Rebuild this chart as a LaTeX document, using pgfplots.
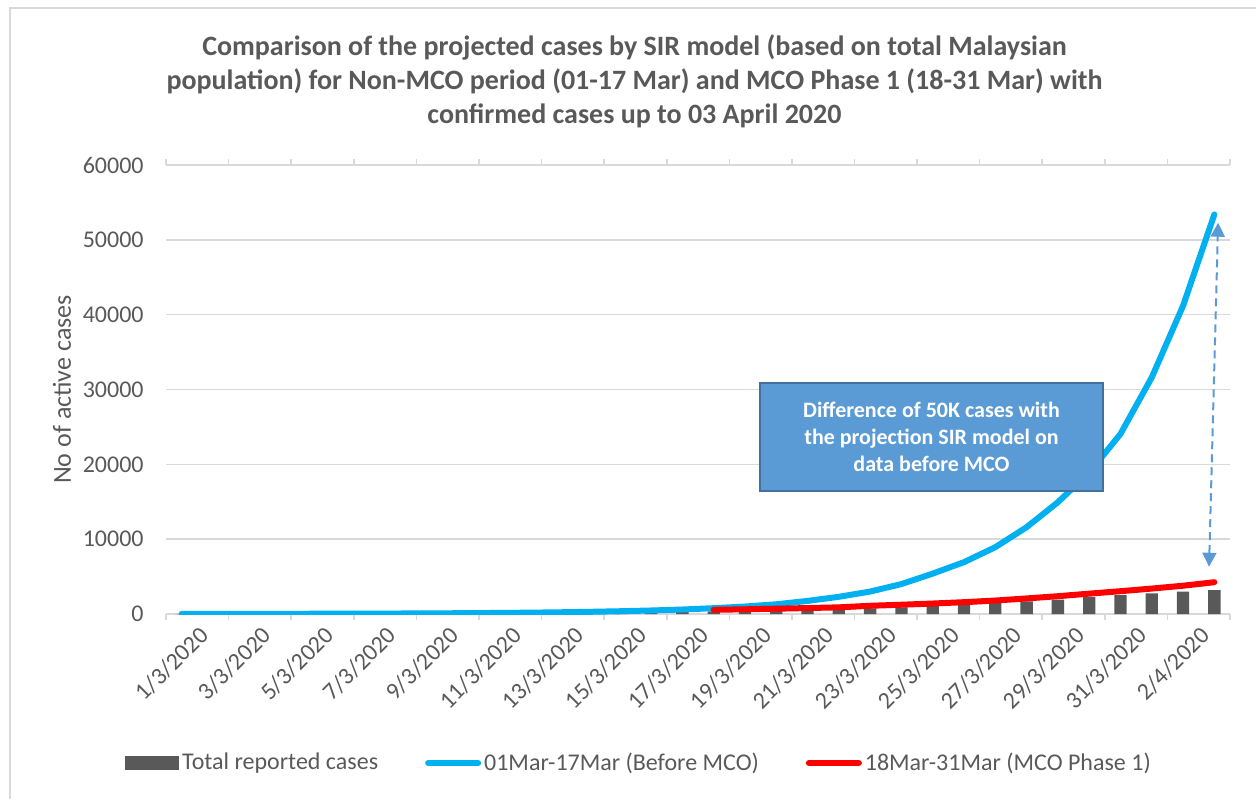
\documentclass[border=0pt]{standalone}
\usepackage{pgfplots}
\pgfplotsset{compat=1.18}
\usepackage{fontspec}
\setmainfont{Carlito}
\definecolor{txt}{HTML}{595959}
\definecolor{gridc}{HTML}{D9D9D9}
\definecolor{barc}{HTML}{595959}
\definecolor{bluec}{HTML}{00B0F0}
\definecolor{redc}{HTML}{FF0000}
\definecolor{boxf}{HTML}{5B9BD5}
\definecolor{boxd}{HTML}{41719C}
\usetikzlibrary{arrows.meta}

\pgfplotstableread{
x y
0 29
1 29
2 36
3 50
4 50
5 83
6 93
7 99
8 117
9 129
10 149
11 158
12 197
13 238
14 290
15 330
16 300
17 350
18 400
19 460
20 540
21 630
22 760
23 890
24 1070
25 1250
26 1470
27 1690
28 1920
29 2270
30 2540
31 2760
32 2990
33 3200
}\bars

\pgfplotstableread{
x y
0 12
1 16
2 21
3 27
4 34
5 43
6 54
7 68
8 85
9 110
10 140
11 175
12 225
13 290
14 370
15 470
16 600
17 780
18 1000
19 1300
20 1750
21 2300
22 3000
23 4000
24 5400
25 6930
26 8930
27 11600
28 14940
29 18900
30 24060
31 31620
32 41190
33 53400
}\blue

\pgfplotstableread{
x y
17 560
18 630
19 710
20 795
21 890
22 1100
23 1240
24 1400
25 1580
26 1800
27 2080
28 2380
29 2720
30 3050
31 3400
32 3780
33 4250
}\red

\begin{document}
\begin{tikzpicture}
\useasboundingbox (0pt,0pt) rectangle (628pt,399.5pt);
\draw[gridc, line width=0.8pt] (5pt,0pt) -- (5pt,395.5pt) -- (628pt,395.5pt);
\begin{axis}[
  at={(83pt,92.5pt)}, anchor=south west,
  scale only axis, width=532pt, height=224.5pt,
  xmin=-0.5, xmax=33.5, ymin=0, ymax=60000,
  axis line style={draw=none},
  ymajorgrids, grid style={gridc, line width=0.8pt},
  major tick length=0pt,
  ytick={0,10000,...,60000},
  scaled y ticks=false,
  /pgf/number format/1000 sep={},
  /pgf/number format/assume math mode=true,
  xtick={0,2,...,32},
  xticklabels={1/3/2020,3/3/2020,5/3/2020,7/3/2020,9/3/2020,11/3/2020,13/3/2020,15/3/2020,17/3/2020,19/3/2020,21/3/2020,23/3/2020,25/3/2020,27/3/2020,29/3/2020,31/3/2020,2/4/2020},
  extra x ticks={-0.5,1.5,...,33.5},
  extra x tick labels={},
  extra x tick style={major tick length=3pt, tick align=outside, tick style={gridc, line width=0.8pt}},
  tick label style={font=\fontsize{12}{14}\selectfont, text=txt},
  yticklabel style={inner sep=0pt, xshift=-11pt, anchor=east},
  xticklabel style={inner sep=0pt, rotate=45, anchor=north east, xshift=2pt, yshift=-9.5pt},
  title={Comparison of the projected cases by SIR model (based on total Malaysian\\population) for Non-MCO period (01-17 Mar) and MCO Phase 1 (18-31 Mar) with\\confirmed cases up to 03 April 2020},
  title style={at={(axis description cs:0.4403,1.160)}, anchor=center, align=center, font=\fontsize{14}{17}\selectfont\bfseries, text=txt},
  ylabel={No of active cases},
  every axis y label/.style={at={(axis description cs:-0.0977,0.5)}, rotate=90, anchor=center, font=\fontsize{13}{15}\selectfont, text=txt},
  legend columns=3,
  legend style={at={(axis description cs:0.445,-0.332)}, anchor=center, draw=none, fill=none,
     font=\fontsize{12}{14}\selectfont, text=txt,
     nodes={inner sep=1.5pt},
     /tikz/every even column/.append style={column sep=22pt}},
]
\addplot[ybar, bar width=6.15pt, fill=barc, draw=none,
  legend image code/.code={\fill[barc] (0pt,-3.5pt) rectangle (27pt,3.5pt);}]
  table[x=x,y=y]{\bars};
\addlegendentry{Total reported cases}
\addplot[bluec, line width=3pt, line cap=round, line join=round, mark=none,
  legend image code/.code={\draw[bluec, line width=3pt, line cap=round] (1.5pt,0pt) -- (26.5pt,0pt);}]
  table[x=x,y=y]{\blue};
\addlegendentry{01Mar-17Mar (Before MCO)}
\addplot[redc, line width=3pt, line cap=round, line join=round, mark=none,
  legend image code/.code={\draw[redc, line width=3pt, line cap=round] (1.5pt,0pt) -- (26.5pt,0pt);}]
  table[x=x,y=y]{\red};
\addlegendentry{18Mar-31Mar (MCO Phase 1)}
\draw[boxf, line width=1pt, dash pattern=on 4pt off 2.5pt,
  {Triangle[width=7pt,length=7pt]}-{Triangle[width=7pt,length=7pt]}]
  (axis cs:32.83,6320) -- (axis cs:33.12,52290);
\end{axis}
\node[fill=boxf, draw=boxd, line width=1pt, minimum width=171.5pt, minimum height=54pt,
  text=white, font=\fontsize{11}{13.5}\selectfont\bfseries, align=center]
  at (465.75pt,181pt) {Difference of 50K cases with\\the projection SIR model on\\data before MCO};
\end{tikzpicture}
\end{document}
